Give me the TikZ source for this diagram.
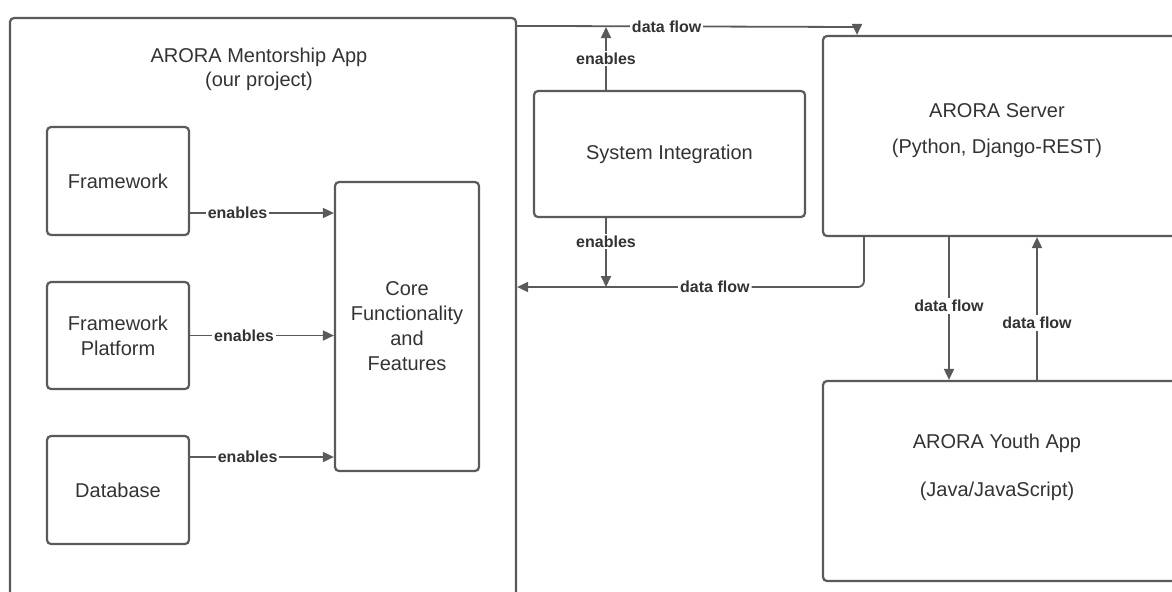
\documentclass[tikz,border=0pt]{standalone}
\usepackage{fontspec}
\setmainfont{Liberation Sans}
\usetikzlibrary{arrows.meta}
\definecolor{linegray}{HTML}{5A5A5A}
\definecolor{textgray}{HTML}{333333}

\begin{document}
\begin{tikzpicture}[
                    x=0.5pt,
                    y=-0.5pt,
                    >={Triangle[length=5.5pt,width=5pt]},
                    box/.style={draw=linegray,line width=1.1pt,rounded corners=2pt,inner sep=0pt,
                                align=center,text=textgray,font=\fontsize{10}{12.5}\selectfont},
                    txt/.style={align=center,text=textgray,font=\fontsize{10}{12}\selectfont},
                    flow/.style={draw=linegray,line width=0.9pt,->},
                    lbl/.style={fill=white,inner sep=1pt,text=textgray,font=\fontsize{8}{9}\selectfont\bfseries}
                ]
                \useasboundingbox (0,0) rectangle (1172,591);
                \clip (0,0) rectangle (1172,591);

                % our app and its parts
                \node[box,minimum width=253pt,minimum height=301pt] (mentor) at (263,319) {};
                \node[txt] (mtitle) at (259,69) {ARORA Mentorship App\\(our project)};
                \node[box,minimum width=71pt,minimum height=54pt]   (fw)   at (118,181)   {Framework};
                \node[box,minimum width=71pt,minimum height=53.5pt] (plat) at (118,335.5) {Framework\\Platform};
                \node[box,minimum width=71pt,minimum height=54pt]   (db)   at (118,490)   {Database};
                \node[box,minimum width=72pt,minimum height=144.5pt] (core) at (407,326.5) {Core\\Functionality\\and\\Features};

                % the other systems (running off the right edge)
                \node[box,minimum width=135.5pt,minimum height=63pt] (sys)   at (669.5,154) {System Integration};
                \node[box,minimum width=200pt,minimum height=100pt]  (srv)   at (1023,136) {};
                \node[txt] (srvtxt) at (997,131) {ARORA Server\\[6pt](Python, Django-REST)};
                \node[box,minimum width=200pt,minimum height=100pt]  (youth) at (1023,481) {};
                \node[txt] (youthtxt) at (997,467) {ARORA Youth App\\[12pt](Java/JavaScript)};

                \coordinate (fwOut)    at ([yshift=-16pt]fw.east);
                \coordinate (dbOut)    at ([yshift=16.5pt]db.east);
                \coordinate (mOut)     at ([yshift=-4.5pt]mentor.north east);
                \coordinate (topTurn)  at (857,27);
                \coordinate (upJoin)   at (606,27);
                \coordinate (lowTurn)  at (864,287);
                \coordinate (downJoin) at (606,287);
                \coordinate (sDown)    at (949,300);
                \coordinate (sUp)      at (1037,300);

                \draw[flow] (fwOut) -- node[lbl,pos=0.33]  {enables} (core.west |- fwOut);
                \draw[flow] (plat.east) -- node[lbl,pos=0.375] {enables} (core.west |- plat.east);
                \draw[flow] (dbOut) -- node[lbl,pos=0.4] {enables} (core.west |- dbOut);

                \draw[flow] (mOut) -- node[lbl,pos=0.44] {data flow} (topTurn) -- (topTurn |- srv.north);
                \draw[flow] (sys.north -| upJoin) -- node[lbl] {enables} (upJoin);
                \draw[flow,rounded corners=3pt] (srv.south -| lowTurn) -- (lowTurn) -- node[lbl,pos=0.43] {data flow} (lowTurn -| mentor.east);
                \draw[flow] (sys.south -| downJoin) -- node[lbl,pos=0.34] {enables} (downJoin);

                \draw[flow] (srv.south -| sDown) -- node[lbl,pos=0.48] {data flow} (youth.north -| sDown);
                \draw[flow] (youth.north -| sUp) -- node[lbl,pos=0.4] {data flow} (srv.south -| sUp);
\end{tikzpicture}
\end{document}
